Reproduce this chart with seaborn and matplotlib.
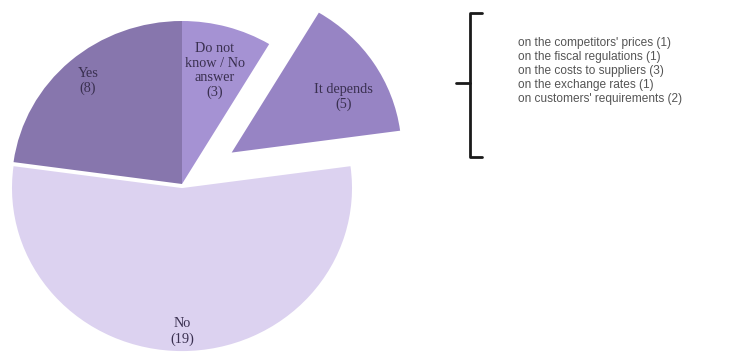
import numpy as np
import matplotlib
matplotlib.use("Agg")
import matplotlib.pyplot as plt
from matplotlib.lines import Line2D
import seaborn as sns

# ---- data ----
categories = ["Do not\nknow / No\nanswer", "It depends", "No", "Yes"]
counts = [3, 5, 19, 8]
depends_reasons = [
    "on the competitors' prices (1)",
    "on the fiscal regulations (1)",
    "on the costs to suppliers (3)",
    "on the exchange rates (1)",
    "on customers' requirements (2)",
]

# ---- styles ----
colors = ["#a592d3", "#9784c4", "#dcd2f0", "#8776ad"]
explode = [0.0, 0.35, 0.025, 0.0]
label_dist = [0.72, 0.74, 0.88, 0.84]
label_angle_shift = [0, -6, 0, 0]

sns.set_theme(style="white")

W, H = 734, 359
fig = plt.figure(figsize=(W / 100, H / 100), dpi=100)
ax = fig.add_axes([0, 0, 1, 1])

wedges, _ = ax.pie(counts, colors=colors, explode=explode, startangle=90,
                   counterclock=False, wedgeprops=dict(edgecolor="none"))

# pixel mapping of pie centre / radii (elliptical pie as in reference)
cx, cy, rx, ry = 182, 184, 170, 163
ax.set_aspect("auto")
ax.set_xlim(-cx / rx, (W - cx) / rx)
ax.set_ylim((cy - H) / ry, cy / ry)
ax.axis("off")

for w, cat, n, d, sh in zip(wedges, categories, counts, label_dist, label_angle_shift):
    mid = np.deg2rad((w.theta1 + w.theta2) / 2 + sh)
    x = w.center[0] + d * np.cos(mid)
    y = w.center[1] + d * np.sin(mid)
    ax.text(x, y, f"{cat}\n({n})", ha="center", va="center",
            fontsize=10.3, family="Liberation Serif", color="#3a3050",
            linespacing=1.15)

# bracket (figure pixel coordinates)
def px(x, y):
    return (x / W, 1 - y / H)

bx, top, bot, mid_y = 470, 13, 157, 83
pts = [px(bx + 12, top), px(bx, top), px(bx, bot), px(bx + 12, bot)]
fig.add_artist(Line2D([p[0] for p in pts], [p[1] for p in pts],
                      color="#1a1a1a", lw=2.0, solid_joinstyle="round",
                      solid_capstyle="round"))
t0, t1 = px(456, mid_y), px(bx, mid_y)
fig.add_artist(Line2D([t0[0], t1[0]], [t0[1], t1[1]], color="#1a1a1a", lw=2.0))

fig.text(518 / W, 1 - 37 / H, "\n".join(depends_reasons), ha="left", va="top",
         fontsize=8.6, family="Liberation Sans", color="#555555",
         linespacing=1.22)

fig.savefig("out.png", dpi=100)
